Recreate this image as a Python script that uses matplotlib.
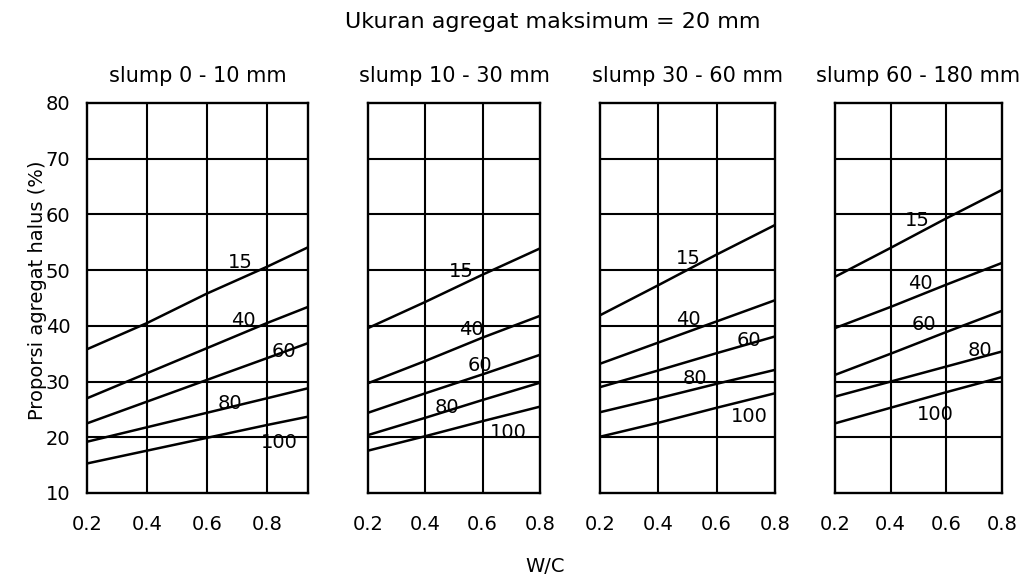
import matplotlib.pyplot as plt

plt.rcParams['font.family'] = ['DejaVu Sans']

# W/C points where each curve was read
wc_first = [0.2, 0.4, 0.6, 0.8, 0.937]
wc = [0.2, 0.4, 0.6, 0.8]

slump_titles = ['slump 0 - 10 mm', 'slump 10 - 30 mm', 'slump 30 - 60 mm', 'slump 60 - 180 mm']
fineness = ['15', '40', '60', '80', '100']

# proportion of fine aggregate (%) per slump class, one list per fineness zone
p1 = {
    '15': [35.8, 40.5, 45.8, 50.6, 54.1],
    '40': [27.0, 31.5, 36.0, 40.5, 43.4],
    '60': [22.5, 26.4, 30.3, 34.2, 36.9],
    '80': [19.2, 21.8, 24.4, 27.0, 28.8],
    '100': [15.3, 17.6, 19.9, 22.2, 23.7],
}
p2 = {
    '15': [39.6, 44.3, 49.2, 53.9],
    '40': [29.7, 33.7, 37.9, 41.8],
    '60': [24.4, 27.9, 31.3, 34.8],
    '80': [20.4, 23.5, 26.7, 29.8],
    '100': [17.6, 20.2, 22.9, 25.5],
}
p3 = {
    '15': [41.9, 47.3, 52.8, 58.1],
    '40': [33.2, 37.0, 40.8, 44.6],
    '60': [29.0, 32.0, 35.1, 38.1],
    '80': [24.5, 27.0, 29.6, 32.1],
    '100': [20.1, 22.6, 25.3, 27.9],
}
p4 = {
    '15': [48.8, 54.0, 59.3, 64.4],
    '40': [39.6, 43.4, 47.4, 51.3],
    '60': [31.2, 35.0, 38.9, 42.7],
    '80': [27.3, 30.0, 32.7, 35.4],
    '100': [22.5, 25.3, 28.1, 30.8],
}

# where the zone numbers are written (x, y)
lab1 = {'15': (0.712, 51.4), '40': (0.723, 40.9), '60': (0.857, 35.4), '80': (0.677, 26.0), '100': (0.84, 19.1)}
lab2 = {'15': (0.526, 49.7), '40': (0.561, 39.3), '60': (0.59, 32.8), '80': (0.474, 25.4), '100': (0.691, 20.8)}
lab3 = {'15': (0.503, 52.1), '40': (0.503, 41.2), '60': (0.711, 37.3), '80': (0.526, 30.5), '100': (0.711, 23.7)}
lab4 = {'15': (0.494, 58.9), '40': (0.505, 47.6), '60': (0.52, 40.3), '80': (0.719, 35.5), '100': (0.562, 24.0)}

yticks = [10, 20, 30, 40, 50, 60, 70, 80]
xticks = [0.2, 0.4, 0.6, 0.8]

W, H = 1031, 583
fig = plt.figure(figsize=(W / 100, H / 100), dpi=100)

# panel boxes in pixels: left, width
boxes = [(87, 221), (368, 172), (600, 175), (835, 167)]
top, bottom = 103, 493

panels = [(wc_first, p1, lab1), (wc, p2, lab2), (wc, p3, lab3), (wc, p4, lab4)]

for i, ((left, width), (xs, data, labs)) in enumerate(zip(boxes, panels)):
    ax = fig.add_axes([left / W, 1 - bottom / H, width / W, (bottom - top) / H])
    ax.set_xlim(xs[0], xs[-1])
    ax.set_ylim(10, 80)
    for v in [0.4, 0.6, 0.8]:
        if v < xs[-1] - 0.01:
            ax.axvline(v, color='black', lw=1.5)
    for v in range(20, 80, 10):
        ax.axhline(v, color='black', lw=1.5)
    for k in fineness:
        ax.plot(xs, data[k], color='black', lw=1.8)
        tx, ty = labs[k]
        ax.text(tx, ty, k, fontsize=14, ha='center', va='center')
    for s in ax.spines.values():
        s.set_linewidth(1.7)
    ax.set_xticks(xticks)
    ax.set_xticklabels([f'{v:.1f}' for v in xticks], fontsize=14)
    ax.tick_params(axis='x', length=0, pad=16)
    if i == 0:
        ax.set_yticks(yticks)
        ax.set_yticklabels([str(v) for v in yticks], fontsize=14)
        ax.tick_params(axis='y', length=0, pad=12)
    else:
        ax.set_yticks([])
    ax.set_title(slump_titles[i], fontsize=15, pad=15)

fig.text(553 / W, 1 - 22 / H, 'Ukuran agregat maksimum = 20 mm', fontsize=16,
         ha='center', va='center')
fig.text(38 / W, 1 - 290 / H, 'Proporsi agregat halus (%)', fontsize=14,
         rotation=90, ha='center', va='center')
fig.text(545 / W, 1 - 567 / H, 'W/C', fontsize=14, ha='center', va='center')

fig.savefig('out.png', dpi=100)
